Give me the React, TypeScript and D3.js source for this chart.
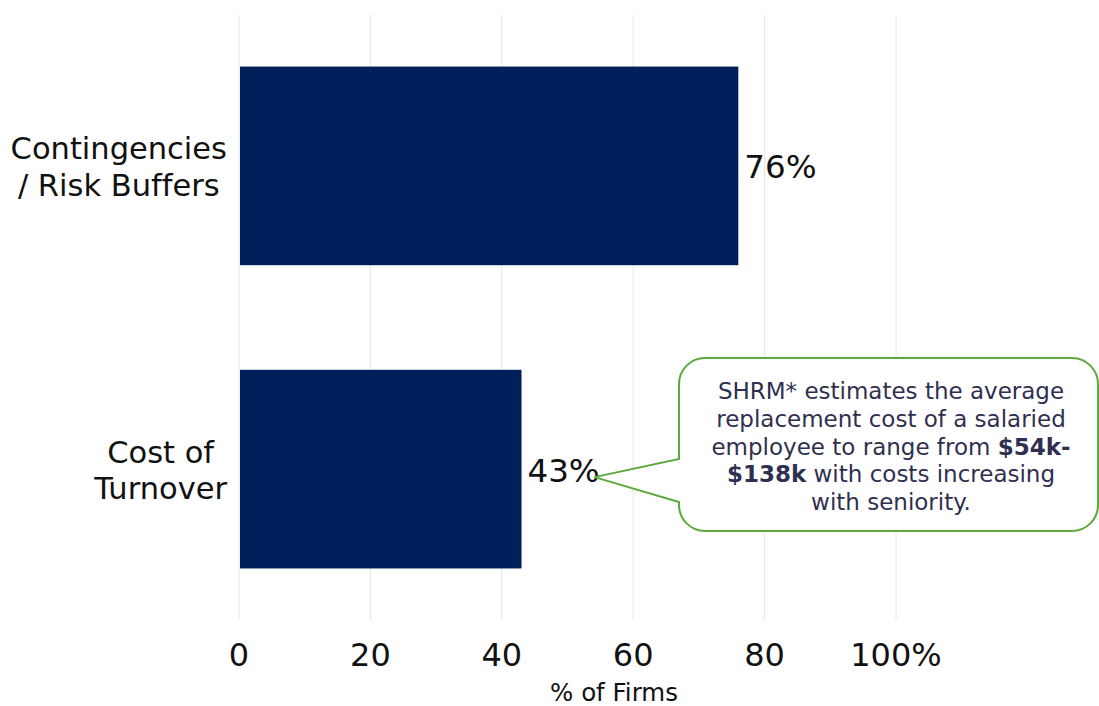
import React, { useEffect, useRef } from "react";
import * as d3 from "d3";

const categories: string[][] = [["Contingencies", "/ Risk Buffers"], ["Cost of", "Turnover"]];
const values: number[] = [76, 43];
const tickValues: number[] = [0, 20, 40, 60, 80, 100];
const tickLabels: string[] = ["0", "20", "40", "60", "80", "100%"];
const axisTitle = "% of Firms";
const calloutLines: { t: string; b?: boolean }[][] = [
  [{ t: "SHRM* estimates the average" }],
  [{ t: "replacement cost of a salaried" }],
  [{ t: "employee to range from " }, { t: "$54k-", b: true }],
  [{ t: "$138k", b: true }, { t: " with costs increasing" }],
  [{ t: "with seniority." }],
];

const W = 1099;
const H = 706;
const FONT = "Verdana, 'DejaVu Sans', sans-serif";

export default function App() {
  const ref = useRef<SVGSVGElement>(null);
  useEffect(() => {
    const svg = d3.select(ref.current);
    svg.selectAll("*").remove();
    const x = d3.scaleLinear().domain([0, 100]).range([239, 896]);
    const y = d3.scaleBand<number>().domain(d3.range(values.length)).range([15, 620]).paddingInner(0.345).paddingOuter(0.17);

    const grid = svg.append("g");
    grid.selectAll("line").data(tickValues).join("line")
      .attr("x1", (d) => x(d)).attr("x2", (d) => x(d))
      .attr("y1", 15).attr("y2", 620)
      .attr("stroke", "#e6e6e6").attr("stroke-width", 1);

    svg.append("g").selectAll("rect").data(values).join("rect")
      .attr("x", x(0) + 1).attr("y", (_, i) => y(i)!)
      .attr("width", (d) => x(d) - x(0) - 1).attr("height", y.bandwidth())
      .attr("fill", "#00205b");

    svg.append("g").selectAll("text").data(values).join("text")
      .attr("x", (d) => x(d) + 6).attr("y", (_, i) => y(i)! + y.bandwidth() / 2 + 1)
      .attr("dy", "0.35em").attr("font-family", FONT).attr("font-size", 32.5).attr("fill", "#111")
      .text((d) => `${d}%`);

    // category labels
    categories.forEach((lines, i) => {
      const g = svg.append("g");
      const cy = y(i)! + y.bandwidth() / 2;
      const lh = 36.5;
      const texts = lines.map((l, j) =>
        g.append("text").attr("font-family", FONT).attr("font-size", 30.5).attr("fill", "#111")
          .attr("text-anchor", "middle").style("font-variant-ligatures", "none")
          .attr("y", cy + (j - (lines.length - 1) / 2) * lh + 1).attr("dy", "0.35em").text(l)
      );
      const maxW = d3.max(texts, (t) => (t.node() as SVGTextElement).getComputedTextLength()) || 0;
      texts.forEach((t) => t.attr("x", 227 - maxW / 2));
    });

    svg.append("g").selectAll("text").data(tickValues).join("text")
      .attr("x", (d) => x(d)).attr("y", 655).attr("dy", "0.35em")
      .attr("text-anchor", "middle")
      .attr("font-family", FONT).attr("font-size", 32).attr("fill", "#111")
      .text((_, i) => tickLabels[i]);

    svg.append("text").attr("x", 614).attr("y", 692).attr("dy", "0.35em").attr("text-anchor", "middle")
      .attr("font-family", FONT).attr("font-size", 24.5).attr("fill", "#111").text(axisTitle);

    // callout
    const bx0 = 679, bx1 = 1098, by0 = 358, by1 = 531, r = 26;
    const tipX = x(values[1]) + 73, tipY = y(1)! + y.bandwidth() / 2 + 8;
    const a1 = 459, a2 = 502;
    const p = d3.path();
    p.moveTo(bx0 + r, by0);
    p.lineTo(bx1 - r, by0);
    p.arcTo(bx1, by0, bx1, by0 + r, r);
    p.lineTo(bx1, by1 - r);
    p.arcTo(bx1, by1, bx1 - r, by1, r);
    p.lineTo(bx0 + r, by1);
    p.arcTo(bx0, by1, bx0, by1 - r, r);
    p.lineTo(bx0, a2);
    p.lineTo(tipX, tipY);
    p.lineTo(bx0, a1);
    p.lineTo(bx0, by0 + r);
    p.arcTo(bx0, by0, bx0 + r, by0, r);
    p.closePath();
    svg.append("path").attr("d", p.toString()).attr("fill", "#fff").attr("stroke", "#5aaa3c").attr("stroke-width", 2);

    const tg = svg.append("text").attr("font-family", FONT).attr("font-size", 23).attr("fill", "#2f2f50").attr("text-anchor", "middle");
    calloutLines.forEach((segs, j) => {
      const line = tg.append("tspan").attr("x", 891).attr("y", 391 + j * 27.8).attr("dy", "0.35em");
      segs.forEach((s) => {
        const ts = line.append("tspan").text(s.t);
        if (s.b) ts.attr("font-weight", "bold");
      });
    });
  }, []);
  return <svg ref={ref} width={W} height={H} style={{ position: "absolute", left: 0, top: 0 }} />;
}
